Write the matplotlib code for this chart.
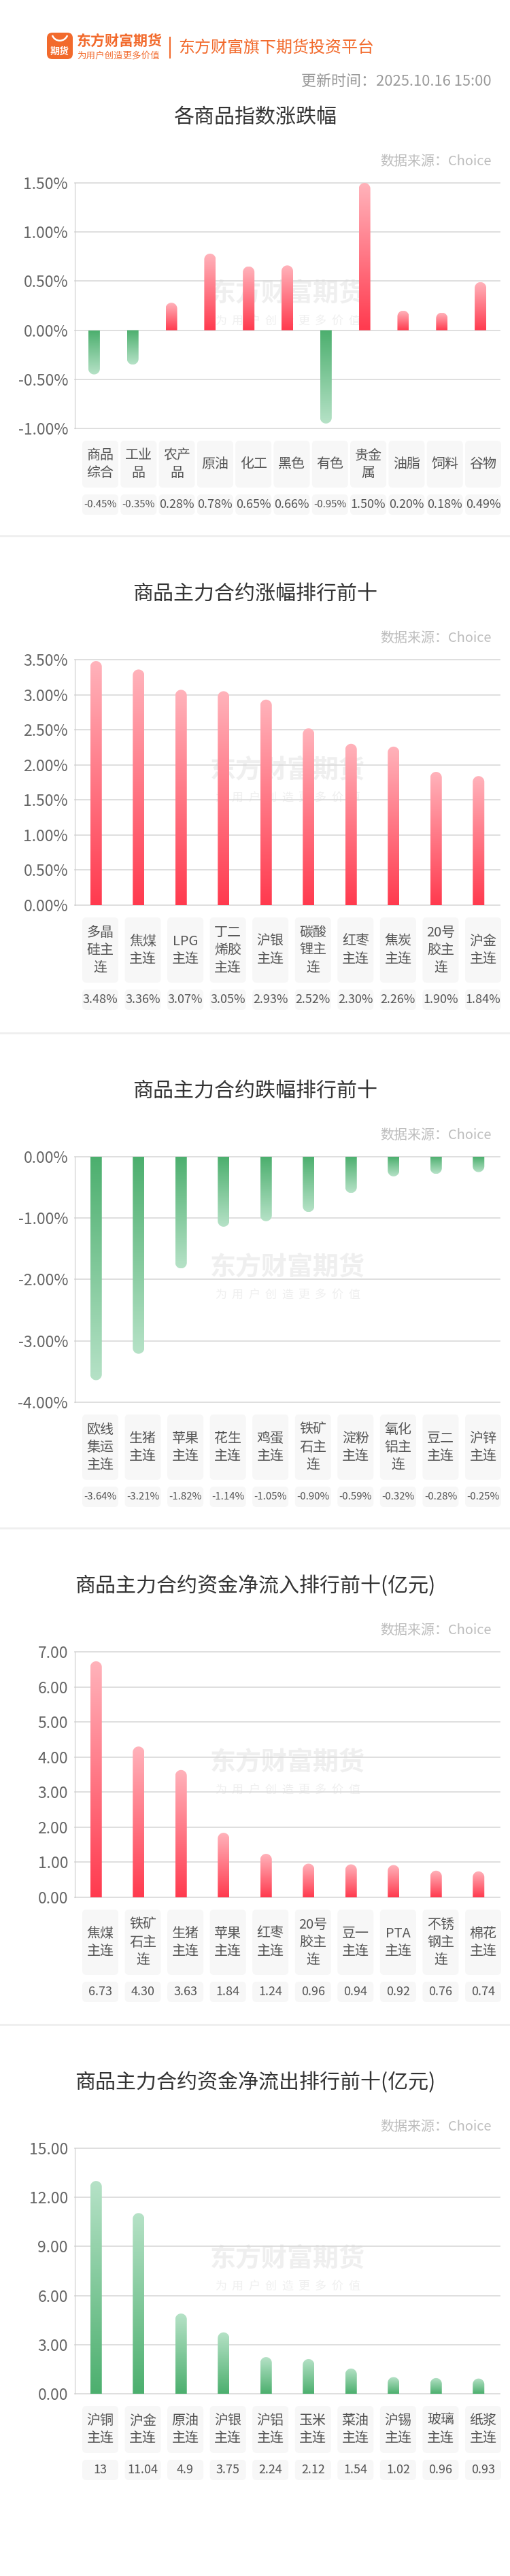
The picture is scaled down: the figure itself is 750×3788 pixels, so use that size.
"""Futures daily summary board: five gradient bar panels stacked in one tall PNG."""

import matplotlib

matplotlib.use("Agg")
import matplotlib.pyplot as plt
import numpy as np
from matplotlib.colors import to_rgb
from matplotlib.patches import FancyBboxPatch, PathPatch, Wedge
from matplotlib.path import Path

plt.rcParams["font.family"] = ["Noto Sans CJK SC", "DejaVu Sans"]

# ---- data -------------------------------------------------------------
idx_names = ["商品综合", "工业品", "农产品", "原油", "化工", "黑色", "有色",
             "贵金属", "油脂", "饲料", "谷物"]
idx_vals = [-0.45, -0.35, 0.28, 0.78, 0.65, 0.66, -0.95, 1.50, 0.20, 0.18, 0.49]
idx_ticks = [-1.0, -0.5, 0.0, 0.5, 1.0, 1.5]

up_names = ["多晶硅主连", "焦煤主连", "LPG主连", "丁二烯胶主连", "沪银主连",
            "碳酸锂主连", "红枣主连", "焦炭主连", "20号胶主连", "沪金主连"]
up_vals = [3.48, 3.36, 3.07, 3.05, 2.93, 2.52, 2.30, 2.26, 1.90, 1.84]
up_ticks = [0.0, 0.5, 1.0, 1.5, 2.0, 2.5, 3.0, 3.5]

down_names = ["欧线集运主连", "生猪主连", "苹果主连", "花生主连", "鸡蛋主连",
              "铁矿石主连", "淀粉主连", "氧化铝主连", "豆二主连", "沪锌主连"]
down_vals = [-3.64, -3.21, -1.82, -1.14, -1.05, -0.90, -0.59, -0.32, -0.28, -0.25]
down_ticks = [-4.0, -3.0, -2.0, -1.0, 0.0]

in_names = ["焦煤主连", "铁矿石主连", "生猪主连", "苹果主连", "红枣主连",
            "20号胶主连", "豆一主连", "PTA主连", "不锈钢主连", "棉花主连"]
in_vals = [6.73, 4.30, 3.63, 1.84, 1.24, 0.96, 0.94, 0.92, 0.76, 0.74]
in_ticks = [0, 1, 2, 3, 4, 5, 6, 7]

out_names = ["沪铜主连", "沪金主连", "原油主连", "沪银主连", "沪铝主连",
             "玉米主连", "菜油主连", "沪锡主连", "玻璃主连", "纸浆主连"]
out_vals = [13, 11.04, 4.9, 3.75, 2.24, 2.12, 1.54, 1.02, 0.96, 0.93]
out_ticks = [0, 3, 6, 9, 12, 15]

titles = ["各商品指数涨跌幅", "商品主力合约涨幅排行前十", "商品主力合约跌幅排行前十",
          "商品主力合约资金净流入排行前十(亿元)", "商品主力合约资金净流出排行前十(亿元)"]

# ---- layout (pixels, y down) -----------------------------------------
W, H, DPI = 750, 3788, 100
PT = 72 / DPI
PLOT_L, PLOT_R, PLOT_H = 110, 735, 361
CELL_L, CELL_R, CELL_W = 121, 737, 53
BAR_PX = 17
title_y = [172, 873, 1604, 2332, 3062]

RED = ("#ff3a4e", "#ffb3bb")
GREEN = ("#4caf6e", "#b6e2c7")
ORANGE = "#f26a2c"


def wrap(s, maxw=2.0):
    lines, cur, w = [], "", 0.0
    for ch in s:
        cw = 0.5 if ord(ch) < 128 else 1.0
        if cur and w + cw > maxw:
            lines.append(cur)
            cur, w = "", 0.0
        cur += ch
        w += cw
    lines.append(cur)
    return lines


def gradient_bars(ax, vals, colors, lim):
    n = len(vals)
    band = (PLOT_R - PLOT_L) / n
    bars = ax.bar(range(n), vals, width=BAR_PX / band, color="none", edgecolor="none")
    ry = (BAR_PX / 2) * (lim[1] - lim[0]) / PLOT_H
    t = np.linspace(0, 1, 256)[:, None]
    for b, v, c in zip(bars, vals, colors):
        strong, light = np.array(to_rgb(c[0])), np.array(to_rgb(c[1]))
        x0 = b.get_x()
        x1 = x0 + b.get_width()
        xc, rx = (x0 + x1) / 2, (x1 - x0) / 2
        sign = 1 if v >= 0 else -1
        knee = v - sign * ry
        if sign * knee < 0:
            knee = 0
        th = np.linspace(np.pi, 0, 40)
        verts = [(x0, 0), (x0, knee)]
        verts += list(zip(xc + rx * np.cos(th), knee + sign * ry * np.sin(th)))
        verts += [(x1, 0), (x0, 0)]
        codes = [Path.MOVETO] + [Path.LINETO] * (len(verts) - 2) + [Path.CLOSEPOLY]
        patch = PathPatch(Path(verts, codes), facecolor="none", edgecolor="none")
        ax.add_patch(patch)
        frac = t if v >= 0 else 1 - t
        img = (strong + (light - strong) * frac).reshape(256, 1, 3)
        im = ax.imshow(img, extent=(x0, x1, min(0, v), max(0, v)), origin="lower",
                       aspect="auto", interpolation="bilinear", zorder=2)
        im.set_clip_path(patch)


def panel(k, names, vals, ticks, fmt, val_fmt, colors):
    ty = title_y[k]
    bg.text(W / 2, ty, titles[k], ha="center", va="center", fontsize=30 * PT, color="#333333")
    bg.text(723, ty + 65, "数据来源：Choice", ha="right", va="center",
            fontsize=20 * PT, color="#bdbdbd")

    top = ty + 97
    ax = fig.add_axes([PLOT_L / W, 1 - (top + PLOT_H) / H, (PLOT_R - PLOT_L) / W, PLOT_H / H])
    lim = (ticks[0], ticks[-1])
    gradient_bars(ax, vals, colors, lim)
    for tv in ticks:
        ax.axhline(tv, color="#d9d9d9", lw=1.2, zorder=1, clip_on=False)
    ax.set_xlim(-0.5, len(vals) - 0.5)
    ax.set_ylim(*lim)
    ax.set_xticks([])
    ax.set_yticks(ticks)
    ax.set_yticklabels([fmt.format(tv) for tv in ticks])
    ax.tick_params(axis="y", length=0, pad=10 * PT, labelsize=23 * PT, labelcolor="#666666")
    for side in ("top", "right", "bottom"):
        ax.spines[side].set_visible(False)
    ax.spines["left"].set_color("#cccccc")
    ax.set_facecolor("none")

    # watermark
    ax.text(0.5, 0.5 + 19 / PLOT_H, "东方财富期货", transform=ax.transAxes, ha="center",
            va="center", fontsize=38 * PT, fontweight="bold", color="#efefef", zorder=0.5)
    sub = "为用户创造更多价值"
    for i, ch in enumerate(sub):
        ax.text(0.5 + (i - 4) * 24.5 / (PLOT_R - PLOT_L), 0.5 - 22 / PLOT_H, ch,
                transform=ax.transAxes, ha="center", va="center", fontsize=17 * PT,
                color="#efefef", zorder=0.5)

    # label / value cells
    n = len(names)
    pitch = (CELL_R - CELL_L - CELL_W) / (n - 1)
    wrapped = [wrap(s) for s in names]
    lab_h = 15 + 27 * max(len(w) for w in wrapped)
    cy = top + PLOT_H + 18
    vy = cy + lab_h + 10
    for i, (lines, v) in enumerate(zip(wrapped, vals)):
        x = CELL_L + i * pitch
        for y0, h in ((cy, lab_h), (vy, 30)):
            bg.add_patch(FancyBboxPatch((x, y0), CELL_W, h, boxstyle="round,pad=0,rounding_size=6",
                                        facecolor="#f7f7f7", edgecolor="none"))
        bg.text(x + CELL_W / 2, cy + lab_h / 2, "\n".join(lines), ha="center", va="center",
                fontsize=20 * PT, color="#555555", linespacing=1.3)
        s = val_fmt(v)
        fs = 15 if len(s) >= 6 else 18
        bg.text(x + CELL_W / 2, vy + 15, s, ha="center", va="center",
                fontsize=fs * PT, color="#555555")


def by_sign(vals):
    return [RED if v >= 0 else GREEN for v in vals]


fig = plt.figure(figsize=(W / DPI, H / DPI), dpi=DPI)
fig.patch.set_facecolor("white")
bg = fig.add_axes([0, 0, 1, 1])
bg.set_xlim(0, W)
bg.set_ylim(H, 0)
bg.axis("off")

# header
bg.add_patch(FancyBboxPatch((69, 48), 38, 39, boxstyle="round,pad=0,rounding_size=8",
                            facecolor=ORANGE, edgecolor="none"))
bg.add_patch(Wedge((88, 48), 13, 20, 160, width=2.5, facecolor="white", edgecolor="none"))
bg.text(88, 76, "期货", ha="center", va="center", fontsize=14 * PT, fontweight="bold", color="white")
bg.text(113, 60, "东方财富期货", ha="left", va="center", fontsize=21 * PT,
        fontweight="bold", color=ORANGE)
bg.text(113, 81, "为用户创造更多价值", ha="left", va="center", fontsize=13.5 * PT, color=ORANGE)
bg.plot([250, 250], [55, 85], color=ORANGE, lw=1.5)
bg.text(262, 70, "东方财富旗下期货投资平台", ha="left", va="center", fontsize=24 * PT, color=ORANGE)
bg.text(723, 120, "更新时间：2025.10.16 15:00", ha="right", va="center",
        fontsize=22 * PT, color="#999999")

# section separators
for ty in title_y[1:]:
    bg.plot([0, W], [ty - 85, ty - 85], color="#efefef", lw=2)

pct = "{:.2f}%"
panel(0, idx_names, idx_vals, idx_ticks, pct, lambda v: f"{v:.2f}%", by_sign(idx_vals))
panel(1, up_names, up_vals, up_ticks, pct, lambda v: f"{v:.2f}%", [RED] * len(up_vals))
panel(2, down_names, down_vals, down_ticks, pct, lambda v: f"{v:.2f}%", [GREEN] * len(down_vals))
panel(3, in_names, in_vals, in_ticks, "{:.2f}", lambda v: f"{v:.2f}", [RED] * len(in_vals))
panel(4, out_names, out_vals, out_ticks, "{:.2f}", lambda v: f"{v:g}", [GREEN] * len(out_vals))

fig.savefig("out.png", dpi=DPI, facecolor="white")
